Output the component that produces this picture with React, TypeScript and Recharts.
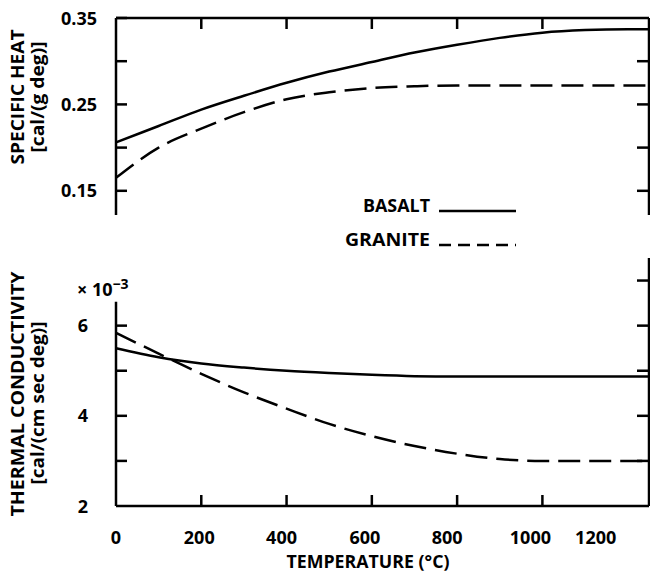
import React from "react";
import { LineChart, Line, XAxis, YAxis, Legend, ReferenceLine } from "recharts";

// temperature (°C)
const temps = [0, 100, 200, 300, 400, 500, 600, 700, 800, 900, 1000, 1100, 1200, 1250];
// specific heat, cal/(g deg)
const basaltHeat = [0.206, 0.225, 0.244, 0.26, 0.275, 0.288, 0.299, 0.31, 0.319, 0.327, 0.333, 0.336, 0.337, 0.337];
const graniteHeat = [0.165, 0.2, 0.222, 0.241, 0.256, 0.264, 0.269, 0.271, 0.272, 0.272, 0.272, 0.272, 0.272, 0.272];
// thermal conductivity, x 10^-3 cal/(cm sec deg)
const basaltCond = [5.5, 5.3, 5.16, 5.07, 5.0, 4.95, 4.91, 4.88, 4.87, 4.87, 4.87, 4.87, 4.87, 4.87];
const graniteCond = [5.84, 5.38, 4.93, 4.52, 4.16, 3.82, 3.55, 3.33, 3.16, 3.04, 3.0, 3.0, 3.0, 3.0];

const xTicks = [0, 200, 400, 600, 800, 1000, 1200];
const heatTicks = [0.15, 0.2, 0.25, 0.3, 0.35];
const heatLabels = [0.15, 0.25, 0.35];
const condTicks = [2, 3, 4, 5, 6, 7];
const condLabels = [2, 4, 6];

const heatData = temps.map((t, i) => ({ t, basalt: basaltHeat[i], granite: graniteHeat[i] }));
const condData = temps.map((t, i) => ({ t, basalt: basaltCond[i], granite: graniteCond[i] }));

const FONT = "'Open Sans', sans-serif";
const INK = "#000";
const SW = 2.5;
const DASH = "22 9";

const txt = { fontFamily: FONT, fontWeight: 700, fill: INK } as const;

const leftTick = (labels: number[], gap: number, digits: number, skipLine: number[] = []) => (p: any) => {
  const v = p.payload.value;
  return (
    <g>
      {!skipLine.includes(v) && (
        <line x1={p.x} x2={p.x + 11} y1={p.y} y2={p.y} stroke={INK} strokeWidth={SW} />
      )}
      {labels.includes(v) && (
        <text x={p.x - gap} y={p.y} dy={6.5} textAnchor="end" fontSize={18} {...txt}>
          {v.toFixed(digits)}
        </text>
      )}
    </g>
  );
};

const rightTick = (skip: number[]) => (p: any) =>
  skip.includes(p.payload.value) ? <g /> : (
    <line x1={p.x} x2={p.x - 12} y1={p.y} y2={p.y} stroke={INK} strokeWidth={SW} />
  );

const topTick = (p: any) => {
  const v = p.payload.value;
  if (v === 0 || v === 1200) return <g />;
  return <line x1={p.x} x2={p.x} y1={p.y} y2={p.y + 11} stroke={INK} strokeWidth={SW} />;
};

const bottomTick = (p: any) => {
  const v = p.payload.value;
  const dx = v === 1200 ? -32 : -Math.round(v * 0.012);
  return (
    <g>
      {v !== 0 && v !== 1200 && (
        <line x1={p.x} x2={p.x} y1={p.y} y2={p.y - 11} stroke={INK} strokeWidth={SW} />
      )}
      <text x={p.x + dx} y={p.y} dy={38} textAnchor="middle" fontSize={18} {...txt}>
        {v}
      </text>
    </g>
  );
};

type TitleLine = { text: string; x: number; y: number; len: number };

function Title({ lines }: { lines: TitleLine[] }) {
  return (
    <g>
      {lines.map((l) => (
        <text
          key={l.text}
          x={l.x}
          y={l.y}
          transform={`rotate(-90 ${l.x} ${l.y})`}
          textAnchor="middle"
          dominantBaseline="central"
          fontSize={18}
          textLength={l.len}
          lengthAdjust="spacingAndGlyphs"
          {...txt}
        >
          {l.text}
        </text>
      ))}
    </g>
  );
}

function CondTitle() {
  return (
    <g>
      <Title
        lines={[
          { text: "THERMAL CONDUCTIVITY", x: 17, y: 144, len: 245 },
          { text: "[cal/(cm sec deg)]", x: 37, y: 153, len: 163 },
        ]}
      />
      <text x={77} y={46} fontSize={18} {...txt}>
        × 10<tspan dy={-7} fontSize={14}>−3</tspan>
      </text>
    </g>
  );
}

function XTitle() {
  return (
    <text x={368} y={318} textAnchor="middle" fontSize={18} textLength={163} lengthAdjust="spacingAndGlyphs" {...txt}>
      TEMPERATURE (°C)
    </text>
  );
}

const legendLen: Record<string, number> = { BASALT: 67, GRANITE: 85 };

const renderLegend = (props: any) => {
  const items = props.payload || [];
  return (
    <svg width={650} height={250} style={{ display: "block" }}>
      {items.map((e: any, i: number) => {
        const y = 205 + i * 34;
        const dash = e.payload?.strokeDasharray ? "12 7" : undefined;
        return (
          <g key={e.value}>
            <text
              x={430}
              y={y}
              dy={6.5}
              textAnchor="end"
              fontSize={18}
              textLength={legendLen[e.value]}
              lengthAdjust="spacingAndGlyphs"
              {...txt}
            >
              {e.value}
            </text>
            <line x1={439} x2={516} y1={y + 6} y2={y + 6} stroke={INK} strokeWidth={SW} strokeDasharray={dash} />
          </g>
        );
      })}
    </svg>
  );
};

export default function App() {
  return (
    <div style={{ position: "absolute", left: 0, top: 0, width: 650, height: 572, background: "#fff" }}>
      <div style={{ position: "absolute", left: 0, top: 0 }}>
        <LineChart width={650} height={250} data={heatData} margin={{ top: 0, right: 0, bottom: 35, left: 0 }}>
          <XAxis
            dataKey="t"
            type="number"
            orientation="top"
            domain={[0, 1250]}
            ticks={xTicks}
            interval={0}
            height={18}
            axisLine={{ stroke: INK, strokeWidth: SW }}
            tickLine={false}
            tickSize={0}
            tickMargin={0}
            tick={topTick}
          />
          <YAxis
            yAxisId="left"
            domain={[0.122, 0.35]}
            ticks={heatTicks}
            interval={0}
            width={116}
            allowDataOverflow
            axisLine={{ stroke: INK, strokeWidth: SW }}
            tickLine={false}
            tickSize={0}
            tickMargin={0}
            tick={leftTick(heatLabels, 19, 2)}
            label={
              <Title
                lines={[
                  { text: "SPECIFIC HEAT", x: 17, y: 97, len: 135 },
                  { text: "[cal/(g deg)]", x: 37, y: 97, len: 111 },
                ]}
              />
            }
          />
          <YAxis
            yAxisId="right"
            orientation="right"
            domain={[0.122, 0.35]}
            ticks={heatTicks}
            interval={0}
            width={1}
            allowDataOverflow
            axisLine={{ stroke: INK, strokeWidth: SW }}
            tickLine={false}
            tickSize={0}
            tickMargin={0}
            tick={rightTick([0.35])}
          />
          <Legend
            layout="horizontal"
            verticalAlign="middle"
            align="center"
            wrapperStyle={{ left: 0, top: 0, width: 650, height: 250 }}
            content={renderLegend}
          />
          <Line yAxisId="left" name="BASALT" dataKey="basalt" type="monotone" stroke={INK} strokeWidth={SW} dot={false} isAnimationActive={false} />
          <Line yAxisId="left" name="GRANITE" dataKey="granite" type="monotone" stroke={INK} strokeWidth={SW} strokeDasharray={DASH} dot={false} isAnimationActive={false} />
        </LineChart>
      </div>
      <div style={{ position: "absolute", left: 0, top: 250 }}>
        <LineChart width={650} height={322} data={condData} margin={{ top: 8, right: 0, bottom: 0, left: 0 }}>
          <XAxis
            dataKey="t"
            type="number"
            domain={[0, 1250]}
            ticks={xTicks}
            interval={0}
            height={66}
            axisLine={{ stroke: INK, strokeWidth: SW }}
            tickLine={false}
            tickSize={0}
            tickMargin={0}
            tick={bottomTick}
            label={<XTitle />}
          />
          <YAxis
            yAxisId="left"
            domain={[2, 7.5]}
            ticks={condTicks}
            interval={0}
            width={116}
            allowDataOverflow
            axisLine={false}
            tickLine={false}
            tickSize={0}
            tickMargin={0}
            tick={leftTick(condLabels, 28, 0, [2, 7])}
            label={<CondTitle />}
          />
          <YAxis
            yAxisId="right"
            orientation="right"
            domain={[2, 7.5]}
            ticks={condTicks}
            interval={0}
            width={1}
            allowDataOverflow
            axisLine={{ stroke: INK, strokeWidth: SW }}
            tickLine={false}
            tickSize={0}
            tickMargin={0}
            tick={rightTick([2])}
          />
          <ReferenceLine
            yAxisId="left"
            segment={[{ x: 0, y: 2 }, { x: 0, y: 6.53 }]}
            stroke={INK}
            strokeWidth={SW}
            ifOverflow="visible"
          />
          <Line yAxisId="left" name="BASALT" dataKey="basalt" type="monotone" stroke={INK} strokeWidth={SW} dot={false} isAnimationActive={false} />
          <Line yAxisId="left" name="GRANITE" dataKey="granite" type="monotone" stroke={INK} strokeWidth={SW} strokeDasharray={DASH} dot={false} isAnimationActive={false} />
        </LineChart>
      </div>
    </div>
  );
}
